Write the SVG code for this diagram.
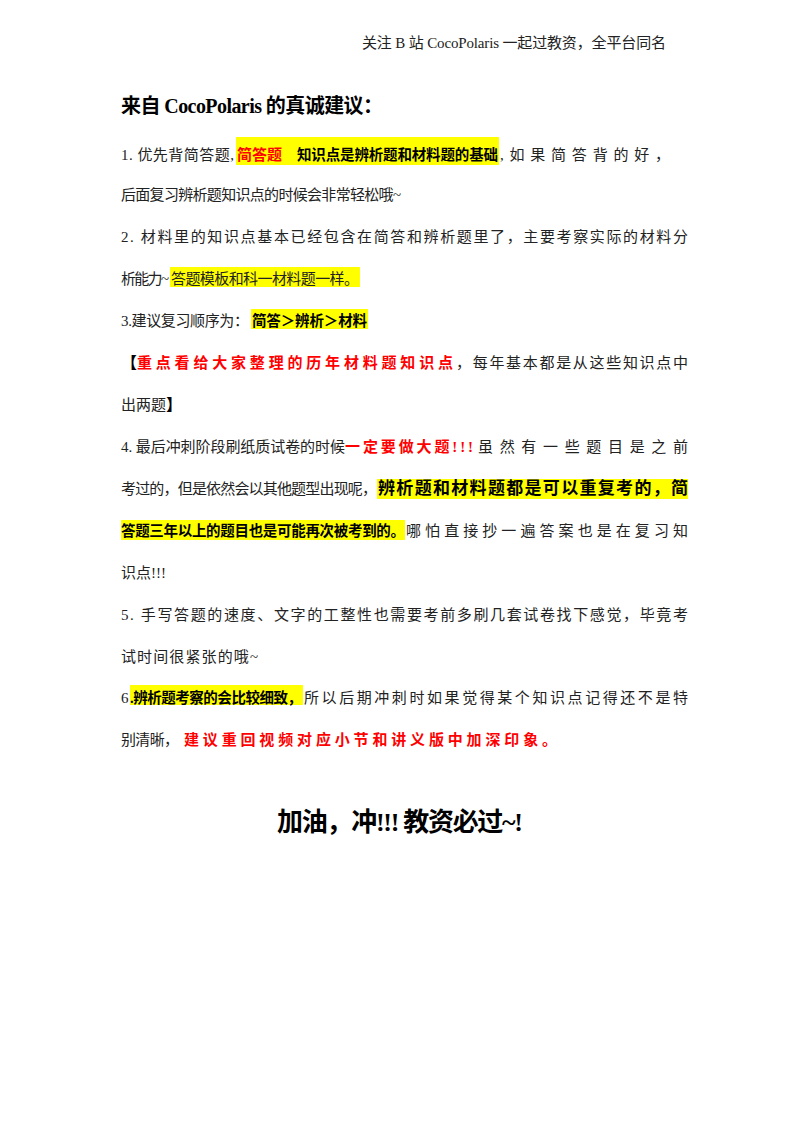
<svg xmlns="http://www.w3.org/2000/svg" width="800" height="1132" viewBox="0 0 800 1132">
<style>
text{font-family:"Liberation Serif","Noto Sans CJK SC",serif;font-size:15px;fill:#222}
.b{font-weight:bold;fill:#000;font-size:14.5px}
.r{font-weight:bold;fill:#f00}
.hl{fill:#ffff00}
</style>
<rect width="800" height="1132" fill="#fff"/>
<text x="362" y="48" font-size="15" textLength="304">关注 B 站 CocoPolaris 一起过教资，全平台同名</text>
<text x="121" y="113" class="b" font-size="21" style="font-size:20px" textLength="262">来自 CocoPolaris 的真诚建议：</text>
<rect class="hl" x="236" y="137" width="263" height="28"/>
<rect class="hl" x="170" y="267" width="190" height="20"/>
<rect class="hl" x="251" y="309" width="117" height="20"/>
<rect class="hl" x="377" y="479" width="311" height="20"/>
<rect class="hl" x="121" y="520" width="284" height="20"/>
<rect class="hl" x="130" y="685" width="173" height="20"/>
<text x="121" y="160" textLength="113">1. 优先背简答题,</text>
<text x="237" y="160" class="r" font-size="20">简答题</text>
<text x="297" y="160" class="b" textLength="201">知识点是辨析题和材料题的基础</text>
<text x="500" y="160" textLength="170">,如果简答背的好，</text>
<text x="121" y="200" textLength="280">后面复习辨析题知识点的时候会非常轻松哦~</text>
<text x="121" y="242" textLength="567">2.  材料里的知识点基本已经包含在简答和辨析题里了，主要考察实际的材料分</text>
<text x="121" y="284" textLength="48">析能力~</text>
<text x="171" y="284" textLength="188">答题模板和科一材料题一样。</text>
<text x="121" y="326" textLength="128">3.建议复习顺序为：</text>
<text x="252" y="326" class="b" textLength="115">简答＞辨析＞材料</text>
<text x="121" y="368" class="b" style="font-size:16px">【</text>
<text x="137" y="368" class="r" font-size="18.5" textLength="316">重点看给大家整理的历年材料题知识点</text>
<text x="456" y="368" textLength="232">，每年基本都是从这些知识点中</text>
<text x="121" y="410">出两题<tspan class="b" style="font-size:16px">】</tspan></text>
<text x="121" y="452" textLength="224">4.  最后冲刺阶段刷纸质试卷的时候</text>
<text x="345" y="452" class="r" font-size="19" textLength="128">一定要做大题!!!</text>
<text x="478" y="452" textLength="210">虽然有一些题目是之前</text>
<text x="121" y="494" textLength="256">考过的，但是依然会以其他题型出现呢，</text>
<text x="378" y="494" class="b" style="font-size:17px" textLength="310">辨析题和材料题都是可以重复考的，简</text>
<text x="121" y="536" class="b" textLength="284">答题三年以上的题目也是可能再次被考到的。</text>
<text x="406" y="536" textLength="282">哪怕直接抄一遍答案也是在复习知</text>
<text x="121" y="578">识点!!!</text>
<text x="121" y="620" textLength="567">5.  手写答题的速度、文字的工整性也需要考前多刷几套试卷找下感觉，毕竟考</text>
<text x="121" y="662" textLength="137">试时间很紧张的哦~</text>
<text x="121" y="703">6</text>
<text x="130" y="703" class="b" textLength="172">.辨析题考察的会比较细致，</text>
<text x="304" y="703" textLength="384">所以后期冲刺时如果觉得某个知识点记得还不是特</text>
<text x="121" y="745" textLength="58">别清晰，</text>
<text x="184" y="745" class="r" font-size="19" textLength="373">建议重回视频对应小节和讲义版中加深印象。</text>
<text x="400" y="831" class="b" style="font-size:26px" text-anchor="middle" textLength="246">加油，冲!!! 教资必过~!</text>
</svg>
